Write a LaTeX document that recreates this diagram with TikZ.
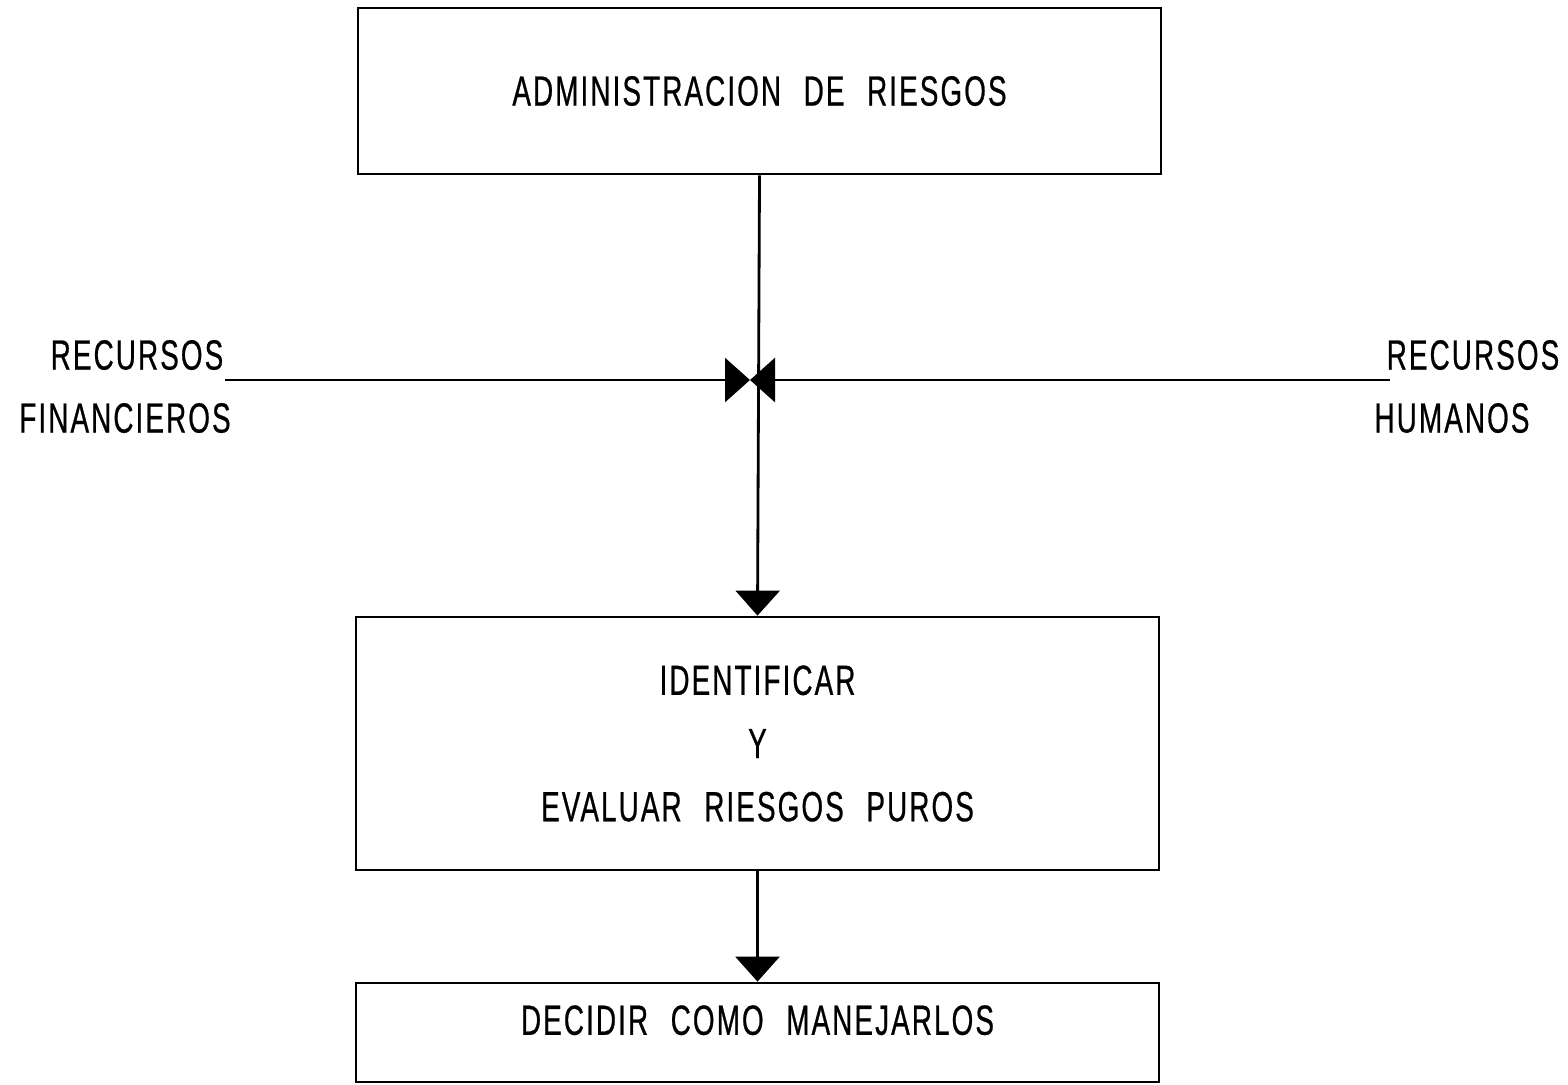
\documentclass[tikz,border=0pt]{standalone}
\usepackage{fontspec}
\setmainfont{Liberation Sans}[FakeStretch=0.66,LetterSpace=5,WordSpace=2.3,FakeBold=0.6]
\usepackage{tikz}
\usetikzlibrary{arrows.meta,positioning,calc}
\tikzset{
    block/.style={
        rectangle,
        thick,
        draw=black,
        minimum width=8.03cm,
        align=center,
        font=\fontsize{12}{14}\selectfont,
    },
    side/.style={
        font=\fontsize{12}{14}\selectfont,
        inner sep=0pt,
    },
}

\begin{document}
\begin{tikzpicture}[>={Triangle[length=0.25cm,width=0.44cm]},thick]
	    \useasboundingbox (0,0) rectangle (15.68,-10.84);
	    \node [block, minimum height=1.66cm] (admin) at (7.595,-0.91) {ADMINISTRACION DE RIESGOS};
	    \node [block, minimum height=2.53cm] (ident) at (7.575,-7.435) {IDENTIFICAR\\[0.14cm]Y\\[0.14cm]EVALUAR RIESGOS PUROS};
	    \node [block, minimum height=0.99cm, text depth=0.25cm] (decid) at (7.575,-10.325) {DECIDIR COMO MANEJARLOS};
	    % recursos a los lados
	    \node [side] (finA) at (1.37,-3.55) {RECURSOS};
	    \node [side] (finB) at (1.25,-4.18) {FINANCIEROS};
	    \node [side] (humA) at (14.73,-3.55) {RECURSOS};
	    \node [side] (humB) at (14.52,-4.18) {HUMANOS};
	    \coordinate (fin) at (2.25,-3.80);
	    \coordinate (hum) at (13.90,-3.80);
	    \coordinate (hub) at (7.50,-3.80);
	    % flechas
	    \draw [->] (admin.south) -- (ident.north);
	    \draw [->] (ident.south) -- (decid.north);
	    \draw [->] (fin) -- (hub);
	    \draw [->] (hum) -- (hub);
\end{tikzpicture}
\end{document}
